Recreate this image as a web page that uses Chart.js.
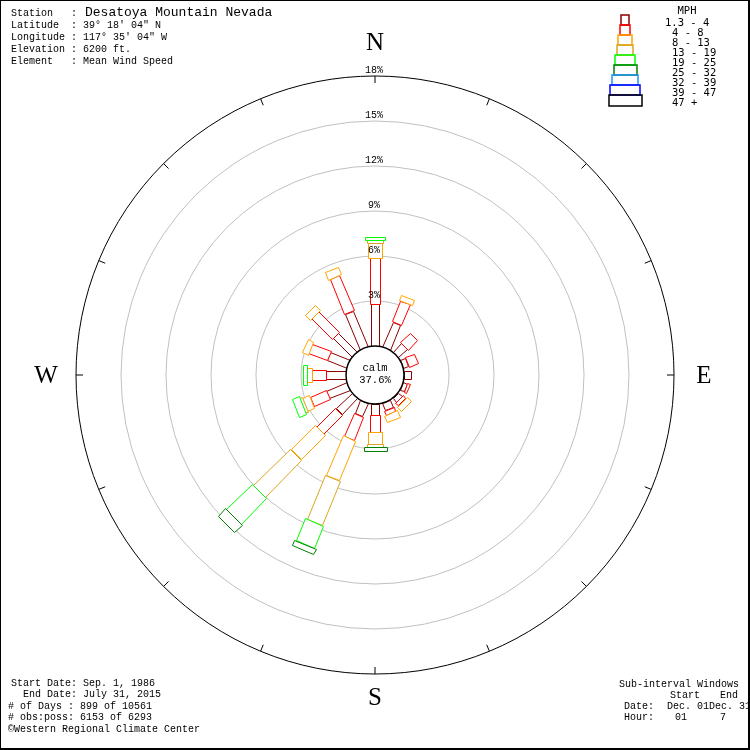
<!DOCTYPE html>
<html>
<head>
<meta charset="utf-8">
<script src="https://cdn.jsdelivr.net/npm/chart.js@4.4.1/dist/chart.umd.min.js"></script>
<style>
  html, body { margin: 0; padding: 0; background: #fff; }
  canvas { display: block; }
</style>
</head>
<body>
<canvas id="windRose" width="750" height="750"></canvas>
<script>
// Wind rose - Desatoya Mountain, Nevada (mean wind speed, % of observations)

let directions = ['N', 'NNE', 'NE', 'ENE', 'E', 'ESE', 'SE', 'SSE', 'S', 'SSW', 'SW', 'WSW', 'W', 'WNW', 'NW', 'NNW'];
let speedLabels = ['1.3 - 4', '4 - 8', '8 - 13', '13 - 19', '19 - 25', '25 - 32', '32 - 39', '39 - 47', '47 +'];

let mph1to4   = [2.8, 1.8, 0.8, 0.35, 0.45, 0.27, 0.33, 0.5, 0.73, 0.93, 1.47, 1.47, 1.33, 1.4, 1.8, 2.6];
let mph4to8   = [3.1, 1.5, 0.87, 0.65, 0, 0.2, 0.27, 0.3, 1.13, 1.67, 1.8, 1.17, 0.97, 1.33, 1.93, 2.53];
let mph8to13  = [1.0, 0.35, 0, 0, 0, 0, 0.4, 0.5, 0.8, 2.87, 2.27, 0.5, 0.27, 0.4, 0.47, 0.53];
let mph13to19 = [0.2, 0, 0, 0, 0, 0, 0, 0, 0.2, 3.2, 3.47, 0.17, 0, 0, 0, 0];
let mph19to25 = [0.2, 0, 0, 0, 0, 0, 0, 0, 0, 1.6, 2.4, 0.5, 0.3, 0, 0, 0];
let mph25to32 = [0, 0, 0, 0, 0, 0, 0, 0, 0.27, 0.4, 0.73, 0, 0, 0, 0, 0];
let mph32to39 = [0, 0, 0, 0, 0, 0, 0, 0, 0, 0, 0, 0, 0, 0, 0, 0];
let mph39to47 = [0, 0, 0, 0, 0, 0, 0, 0, 0, 0, 0, 0, 0, 0, 0, 0];
let mph47up   = [0, 0, 0, 0, 0, 0, 0, 0, 0, 0, 0, 0, 0, 0, 0, 0];

let ringValues = [3, 6, 9, 12, 15, 18];
let calmPct = 37.6;

let classColors = ['#8b0000', '#ff0000', '#ffa500', '#daa520', '#00ff00', '#008000', '#1e90ff', '#0000ff', '#000000'];
let barWidths = [8, 10, 14, 16, 20, 23, 26, 30, 33];

let headerLines = [
  'Latitude  : 39\u00b0 18\' 04" N',
  'Longitude : 117\u00b0 35\' 04" W',
  'Elevation : 6200 ft.',
  'Element   : Mean Wind Speed'
];
let footerLines = [
  [11, 'Start Date: Sep. 1, 1986'],
  [11, '  End Date: July 31, 2015'],
  [8, '# of Days : 899 of 10561'],
  [8, '# obs:poss: 6153 of 6293'],
  [8, '\u00a9Western Regional Climate Center']
];

let calmRadius = 29;   // px, bars start at the calm circle
let pxPerPct = 15;

let roseDrawing = {
  id: 'roseDrawing',
  afterDatasetsDraw(chart) {
    let ctx = chart.ctx;
    let sc = chart.scales.r;
    let cx = sc.xCenter, cy = sc.yCenter;
    let mono = '"Liberation Mono", "DejaVu Sans Mono", monospace';

    // bars
    ctx.save();
    ctx.translate(0.5, 0.5);
    ctx.lineWidth = 1;
    directions.forEach((d, i) => {
      let a = sc.getIndexAngle(i) - Math.PI / 2;
      let ux = Math.cos(a), uy = Math.sin(a);
      let cum = 0;
      chart.data.datasets.forEach((ds, j) => {
        let v = ds.data[i];
        if (!v) return;
        let r0 = sc.getDistanceFromCenterForValue(cum);
        cum += v;
        let r1 = sc.getDistanceFromCenterForValue(cum);
        let hw = barWidths[j] / 2;
        ctx.beginPath();
        ctx.moveTo(Math.round(cx + ux * r0 - uy * hw), Math.round(cy + uy * r0 + ux * hw));
        ctx.lineTo(Math.round(cx + ux * r1 - uy * hw), Math.round(cy + uy * r1 + ux * hw));
        ctx.lineTo(Math.round(cx + ux * r1 + uy * hw), Math.round(cy + uy * r1 - ux * hw));
        ctx.lineTo(Math.round(cx + ux * r0 + uy * hw), Math.round(cy + uy * r0 - ux * hw));
        ctx.closePath();
        ctx.fillStyle = '#fff';
        ctx.fill();
        ctx.strokeStyle = ds.borderColor;
        ctx.stroke();
      });
    });
    ctx.restore();

    // calm circle
    ctx.save();
    ctx.beginPath();
    ctx.arc(cx, cy, sc.getDistanceFromCenterForValue(0), 0, Math.PI * 2);
    ctx.fillStyle = '#fff';
    ctx.fill();
    ctx.lineWidth = 1.5;
    ctx.strokeStyle = '#000';
    ctx.stroke();
    ctx.fillStyle = '#000';
    ctx.font = '10.5px ' + mono;
    ctx.textAlign = 'center';
    ctx.textBaseline = 'middle';
    ctx.fillText('calm', cx, cy - 7);
    ctx.fillText(calmPct.toFixed(1) + '%', cx, cy + 5);

    // ring labels
    ctx.font = '10px ' + mono;
    ctx.textBaseline = 'bottom';
    ringValues.forEach(v => {
      ctx.fillText(v + '%', cx - 1, cy - sc.getDistanceFromCenterForValue(v) - 1);
    });

    // outer ticks
    let rOut = sc.getDistanceFromCenterForValue(ringValues[ringValues.length - 1]);
    ctx.strokeStyle = '#000';
    ctx.lineWidth = 1;
    directions.forEach((d, i) => {
      let a = sc.getIndexAngle(i) - Math.PI / 2;
      ctx.beginPath();
      ctx.moveTo(cx + Math.cos(a) * rOut, cy + Math.sin(a) * rOut);
      ctx.lineTo(cx + Math.cos(a) * (rOut - 7), cy + Math.sin(a) * (rOut - 7));
      ctx.stroke();
    });

    // cardinal letters
    ctx.font = '25px "Liberation Serif", "DejaVu Serif", serif';
    ctx.textAlign = 'center';
    ctx.textBaseline = 'middle';
    ctx.fillText('N', cx, 43);
    ctx.fillText('S', cx, 698);
    ctx.fillText('W', 46, cy + 1);
    ctx.fillText('E', 704, cy + 1);

    // header
    ctx.textAlign = 'left';
    ctx.font = '10px ' + mono;
    ctx.fillText('Station   :', 11, 13);
    ctx.font = '13px ' + mono;
    ctx.fillText('Desatoya Mountain Nevada', 85, 13);
    ctx.font = '10px ' + mono;
    headerLines.forEach((t, k) => ctx.fillText(t, 11, 25 + k * 12));

    // footer left
    footerLines.forEach((f, k) => ctx.fillText(f[1], f[0], 683 + k * 11.5));

    // footer right
    ctx.fillText('Sub-interval Windows', 619, 684);
    ctx.fillText('Start', 670, 695);
    ctx.fillText('End', 720, 695);
    ctx.fillText('Date:', 624, 706);
    ctx.fillText('Dec. 01', 667, 706);
    ctx.fillText('Dec. 31', 709, 706);
    ctx.fillText('Hour:', 624, 717);
    ctx.fillText('01', 675, 717);
    ctx.fillText('7', 720, 717);

    // speed legend
    ctx.font = '10.5px "DejaVu Sans Mono", monospace';
    ctx.textAlign = 'center';
    ctx.fillText('MPH', 687, 11);
    ctx.textAlign = 'left';
    speedLabels.forEach((lab, j) => {
      let w = barWidths[j];
      let h = j === speedLabels.length - 1 ? 11 : 10;
      ctx.strokeStyle = classColors[j];
      ctx.lineWidth = 1.5;
      ctx.strokeRect(Math.round(625 - w / 2), 15 + j * 10, w, h);
      ctx.fillText(lab, j === 0 ? 665 : 672, 23 + j * 10);
    });

    // border
    ctx.strokeStyle = '#000';
    ctx.lineWidth = 2;
    ctx.strokeRect(0, 0, 749, 749);
    ctx.restore();
  }
};

let seriesList = [mph1to4, mph4to8, mph8to13, mph13to19, mph19to25, mph25to32, mph32to39, mph39to47, mph47up];

let roseCanvas = document.getElementById('windRose');
let roseChart = new Chart(roseCanvas, {
  type: 'radar',
  data: {
    labels: directions,
    datasets: seriesList.map((s, j) => ({
      label: speedLabels[j],
      data: s,
      borderColor: classColors[j],
      backgroundColor: 'rgba(0,0,0,0)',
      showLine: false,
      pointRadius: 0,
      pointHoverRadius: 0
    }))
  },
  options: {
    responsive: false,
    animation: false,
    layout: { padding: 76 },
    plugins: { legend: { display: false }, tooltip: { enabled: false } },
    scales: {
      r: {
        min: -calmRadius / pxPerPct,
        max: 18,
        startAngle: 0,
        afterBuildTicks: axis => { axis.ticks = ringValues.map(v => ({ value: v })); },
        ticks: { display: false },
        pointLabels: { display: false },
        angleLines: { display: false },
        grid: {
          circular: true,
          lineWidth: 1,
          color: c => (c.tick && c.tick.value === 18) ? '#000' : '#c0c0c0'
        }
      }
    }
  },
  plugins: [roseDrawing]
});
</script>
</body>
</html>
